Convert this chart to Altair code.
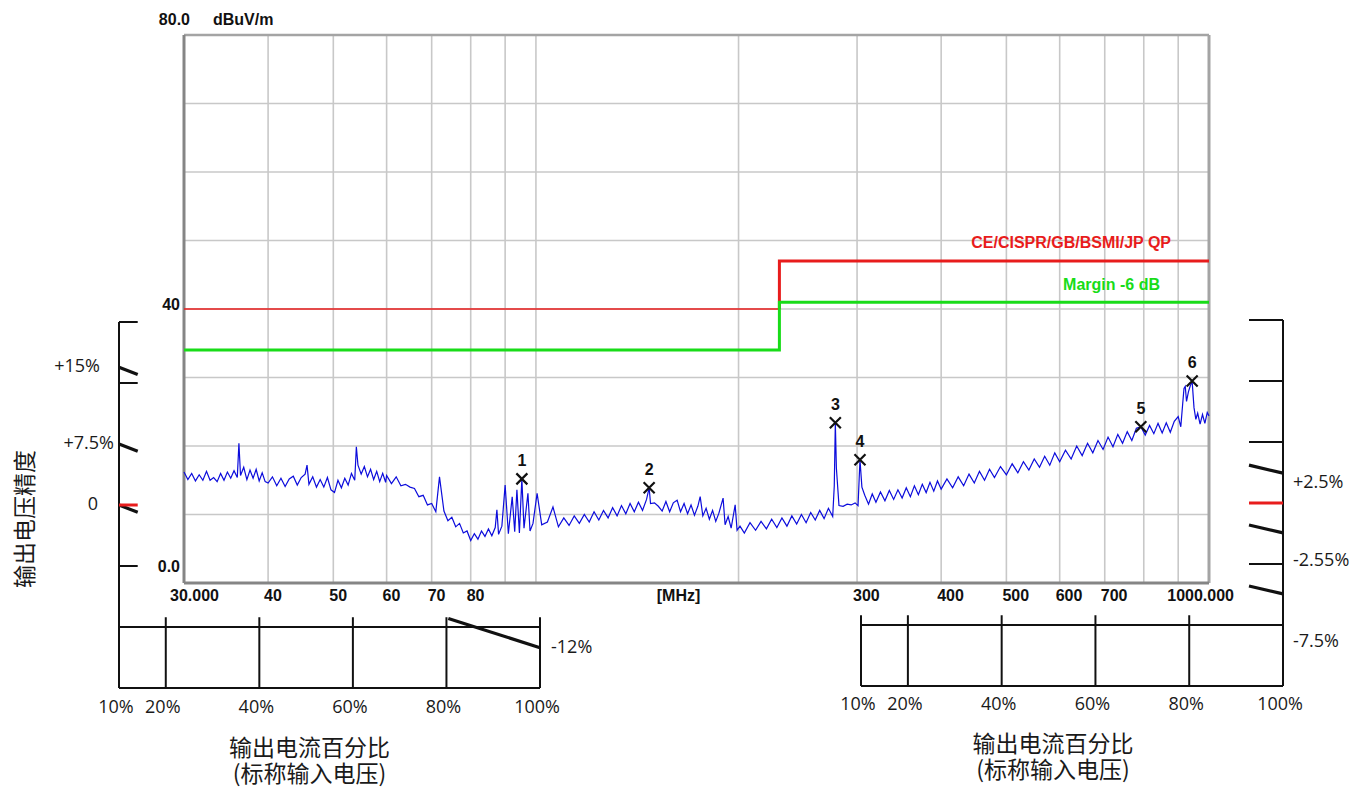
import altair as alt
import pandas as pd

# ---------------- EMI scan: frequency (MHz) / level (dBuV/m) ----------------
TRACE_MHZ = [
    30.0, 30.4, 30.8, 31.2, 31.6, 32.0, 32.4, 32.8, 33.2, 33.6, 34.0, 34.4, 34.8, 35.2, 35.6, 36.0, 36.2, 36.4,
    36.8, 37.2, 37.6, 38.0, 38.4, 38.8, 39.2, 39.6,
    40.0, 40.6, 41.2, 41.8, 42.4, 43.0, 43.6, 44.2, 44.8, 45.4, 45.7, 46.0, 46.6, 47.2, 47.8, 48.4, 49.0, 49.6,
    50.2, 50.8, 51.4, 52.0, 52.6, 53.2, 53.8, 54.1, 54.4, 55.0, 55.6, 56.2, 56.8, 57.4, 58.0, 58.6, 59.2, 59.8,
    60, 61, 62, 63, 64, 65, 66, 67, 68, 69, 70, 71, 71.9, 73, 74, 75, 76, 77, 78, 79, 80, 81, 82, 83, 84, 85,
    86, 87, 87.5, 88, 89, 90, 91, 92.2, 93, 93.7, 94.5, 95.3, 96, 97.3, 98, 99, 100.4,
    102, 104, 106, 108, 110, 112, 114, 116, 118, 120, 122, 124, 126, 128, 130, 132, 134, 136, 138, 140, 142,
    144, 146, 147.3, 148, 150, 152, 154, 156, 158, 160, 162.1, 164, 166, 168, 170, 172, 174, 175.4, 177, 179,
    181, 183, 185, 187, 189.7, 191, 193, 195, 197.7, 199,
    201, 204, 208, 212, 216, 220, 224, 228, 232, 236, 240, 244, 248, 252, 256, 260, 264, 268, 272, 276, 277.5,
    278.5, 279.5, 282, 286, 290, 294, 298, 301, 303, 305, 308, 312, 316, 320, 325, 330, 335, 340, 345, 350,
    355, 360, 365, 370, 375, 380, 385, 390, 395, 400,
    408, 416, 424, 432, 440, 448, 456, 464, 472, 480, 490, 500, 510, 520, 530, 540, 550, 560, 570, 580, 590,
    600, 612, 624, 636, 648, 660, 672, 684, 696, 708, 720, 732, 744, 756, 768, 780, 792, 804, 816, 828, 840,
    852, 864, 876, 888, 900, 908, 914, 918, 922, 926, 932, 938, 944, 950, 956, 962, 970, 978, 986, 994, 1000,
]
TRACE_DBUV = [
    16.2, 15.1, 16.0, 14.9, 15.8, 15.0, 16.3, 15.0, 15.4, 14.8, 16.0, 15.0, 16.2, 15.3, 16.4, 15.4, 20.4, 15.7,
    16.9, 15.1, 16.5, 15.3, 16.6, 14.9, 16.1, 14.8,
    14.6, 15.5, 14.2, 15.3, 14.1, 15.2, 15.6, 14.3, 15.4, 15.9, 17.2, 14.4, 15.5, 14.0, 15.1, 14.0, 15.4, 13.6,
    13.2, 15.0, 13.9, 15.3, 14.3, 16.0, 15.0, 19.9, 17.2, 15.9, 17.0, 15.5, 16.6, 15.1, 16.3, 14.8, 16.0, 14.7,
    15.7, 14.5, 15.5, 14.2, 14.4, 14.0, 13.8, 12.6, 12.8, 11.4, 11.6, 10.4, 15.5, 10.5, 9.1, 9.6, 8.2, 8.7, 7.3,
    7.6, 6.2, 7.2, 6.4, 7.6, 6.8, 7.9, 6.9, 8.1, 10.7, 7.1, 8.3, 14.3, 7.2, 12.6, 7.5, 13.6, 7.3, 15.2, 8.0,
    13.1, 7.6, 8.7, 13.1,
    8.5, 8.9, 11.1, 8.2, 9.5, 8.4, 9.8, 8.7, 10.0, 8.9, 10.4, 9.2, 10.6, 9.5, 11.0, 9.8, 11.3, 10.1, 11.6, 10.4,
    11.8, 10.6, 12.2, 13.9, 11.6, 11.7, 11.2, 10.5, 11.9, 10.4, 11.7, 12.1, 10.4, 11.6, 10.1, 11.4, 9.9, 11.2,
    12.6, 9.8, 10.9, 9.3, 10.6, 9.0, 10.2, 12.4, 8.5, 9.7, 8.0, 11.4, 7.7,
    8.3, 7.3, 8.8, 7.7, 9.0, 7.9, 9.3, 8.1, 9.5, 8.3, 9.8, 8.6, 10.0, 8.8, 10.3, 9.2, 10.6, 9.4, 10.9, 9.7, 14.2,
    23.4, 16.8, 11.3, 11.2, 11.5, 11.4, 11.7, 11.3, 18.0, 14.0, 12.8, 11.5, 13.0, 11.8, 13.3, 12.0, 13.5, 12.2,
    13.6, 12.4, 13.9, 12.6, 14.2, 12.9, 14.4, 13.2, 14.7, 13.4, 14.9, 13.7,
    15.2, 13.9, 15.5, 14.2, 15.9, 14.6, 16.3, 15.0, 16.6, 15.4, 17.0, 15.8, 17.4, 16.1, 17.7, 16.5, 18.1, 16.9,
    18.5, 17.2, 19.0, 17.7, 19.4, 18.1, 20.0, 18.6, 20.4, 19.0, 20.8, 19.5, 21.3, 19.9, 21.7, 20.4, 22.1, 20.8,
    22.6, 22.8, 21.6, 23.0, 21.8, 23.3, 21.9, 23.4, 22.0, 23.6, 24.3, 22.8, 26.2, 28.4, 28.7, 26.5, 27.9, 28.8,
    29.4, 25.6, 23.9, 24.8, 23.2, 24.6, 23.3, 24.9, 24.4,
]

LIMIT_MHZ = [30, 230, 230, 1000]
LIMIT_QP_DB = [40, 40, 47, 47]
LIMIT_MARGIN_DB = [34, 34, 41, 41]

MARKER_NO = ["1", "2", "3", "4", "5", "6"]
MARKER_MHZ = [95.3, 147.3, 278.5, 303.0, 792.0, 944.0]
MARKER_DBUV = [15.2, 13.9, 23.4, 18.0, 22.8, 29.5]

FREQ_RANGE = [30, 1000]
LEVEL_RANGE = [0, 80]
GRID_MHZ = [40, 50, 60, 70, 80, 90, 100, 200, 300, 400, 500, 600, 700, 800, 900]
GRID_DB = [10, 20, 30, 40, 50, 60, 70]
XTICK_MHZ = [40, 50, 60, 70, 80, 300, 400, 500, 600, 700]
XTICK_TEXT = ["40", "50", "60", "70", "80", "300", "400", "500", "600", "700"]

# ---------------- output-voltage-accuracy panels: load (%) / accuracy (%) ----------------
LOAD_RANGE = [10, 100]
ACC_RANGE = [-15, 15]
LOAD_GRID = [20, 40, 60, 80]
LOAD_TICK_POS = [10, 20, 40, 60, 80, 100]
LOAD_TICK_TEXT = ["10%", "20%", "40%", "60%", "80%", "100%"]
BOX_ACC = [-10, -15]
BOX_TOP_VISIBLE = -9.2

L_TICK_ACC = [15, 10, -5]
L_TICK_END = 14
L_CURVE_X0 = [10, 10, 10, 80.4]
L_CURVE_Y0 = [11.3, 5.0, 0.0, -9.3]
L_CURVE_X1 = [14, 14, 14, 100]
L_CURVE_Y1 = [10.7, 4.4, -0.6, -11.7]
L_LABELS = ["+15%", "+7.5%", "0", "-12%"]

R_TICK_ACC = [15, 10, 5, -5]
R_TICK_START = 92.75
R_CURVE_Y0 = [3.1, -1.8, -6.8]
R_CURVE_Y1 = [2.45, -2.45, -7.45]
R_LABELS = ["+2.5%", "-2.55%", "-7.5%"]
R_LABEL_ACC = [1.6, -4.75, -11.4]

X_TITLE = "输出电流百分比\n(标称输入电压)"
Y_TITLE = "输出电压精度"
Y_TITLE_AT = [-9.9, -1.15]

# ---------------- styles ----------------
RED = "#e81c1c"
GREEN = "#18dc18"
BLUE = "#0c0cdc"
GRID_C = "#c8c8c8"
EMI_TXT = dict(font="Liberation Sans", fontSize=16, fontWeight="bold", color="#111111", baseline="middle")
PAN_TXT = dict(font="Open Sans", fontSize=18, color="#1a1a1a", baseline="middle")
CJK_TXT = dict(font="Noto Sans CJK SC", fontSize=23, color="#1a1a1a", baseline="middle", align="center")
XPATH = "M-1,-1L1,1M-1,1L1,-1"

FX = alt.Scale(type="log", domain=FREQ_RANGE, range=[176, 1201])
FY = alt.Scale(domain=LEVEL_RANGE, range=[575, 27])
LX = alt.Scale(domain=LOAD_RANGE, range=[111, 532])
LY = alt.Scale(domain=ACC_RANGE, range=[680, 314])
RX = alt.Scale(domain=LOAD_RANGE, range=[853, 1275])
RY = alt.Scale(domain=ACC_RANGE, range=[678, 312])


def enc(xs, ys, x, y, x2=None, y2=None):
    e = {"x": alt.X(f"{x}:Q", scale=xs, axis=None), "y": alt.Y(f"{y}:Q", scale=ys, axis=None)}
    if x2:
        e["x2"] = alt.X2(f"{x2}:Q")
    if y2:
        e["y2"] = alt.Y2(f"{y2}:Q")
    return e


def rule(df, xs, ys, x, y, x2=None, y2=None, **mk):
    return alt.Chart(df).mark_rule(**mk).encode(**enc(xs, ys, x, y, x2, y2))


def text(df, xs, ys, x, y, t="t", **mk):
    return alt.Chart(df).mark_text(**mk).encode(text=alt.Text(f"{t}:N"), **enc(xs, ys, x, y))


def line(df, xs, ys, x, y, **mk):
    return alt.Chart(df).mark_line(**mk).encode(order=alt.Order("i:Q"), **enc(xs, ys, x, y))


def one(**kw):
    return pd.DataFrame({k: [v] for k, v in kw.items()})


f0, f1 = FREQ_RANGE
l0, l1 = LEVEL_RANGE

# ---------------- EMI chart ----------------
lim = pd.DataFrame({"i": range(4), "f": LIMIT_MHZ, "qp": LIMIT_QP_DB, "mg": LIMIT_MARGIN_DB})
trace = pd.DataFrame({"i": range(len(TRACE_MHZ)), "f": TRACE_MHZ, "l": TRACE_DBUV})
marks = pd.DataFrame({"n": MARKER_NO, "f": MARKER_MHZ, "l": MARKER_DBUV})

emi = alt.layer(
    rule(pd.DataFrame({"f": GRID_MHZ, "lo": l0, "hi": l1}), FX, FY, "f", "lo", y2="hi", color=GRID_C, strokeWidth=1.6),
    rule(pd.DataFrame({"l": GRID_DB, "a": f0, "b": f1}), FX, FY, "a", "l", x2="b", color=GRID_C, strokeWidth=1.6),
    rule(one(f=f1, lo=l0, hi=l1), FX, FY, "f", "lo", y2="hi", color="#a4a4a4", strokeWidth=3),
    rule(one(l=l1, a=f0, b=f1), FX, FY, "a", "l", x2="b", color="#a4a4a4", strokeWidth=2.5),
    rule(one(f=f0, lo=l0, hi=l1), FX, FY, "f", "lo", y2="hi", color="#858585", strokeWidth=3),
    rule(one(l=l0, a=f0, b=f1), FX, FY, "a", "l", x2="b", color="#858585", strokeWidth=3),
    line(lim.iloc[:2], FX, FY, "f", "qp", color=RED, strokeWidth=1.6),
    line(lim.iloc[1:], FX, FY, "f", "qp", color=RED, strokeWidth=3),
    line(lim, FX, FY, "f", "mg", color=GREEN, strokeWidth=3),
    line(trace, FX, FY, "f", "l", color=BLUE, strokeWidth=1.2),
    alt.Chart(marks).mark_point(shape=XPATH, size=121, filled=False, color="#111111", strokeWidth=2.2,
                                opacity=1).encode(**enc(FX, FY, "f", "l")),
    text(marks, FX, FY, "f", "l", t="n", align="center", dy=-18, **EMI_TXT),
    text(pd.DataFrame({"f": XTICK_MHZ, "l": l0, "t": XTICK_TEXT}), FX, FY, "f", "l", align="left", dx=-4, dy=13, **EMI_TXT),
    text(one(f=f0, l=l0, t="30.000"), FX, FY, "f", "l", align="left", dx=-14, dy=13, **EMI_TXT),
    text(one(f=f1, l=l0, t="1000.000"), FX, FY, "f", "l", align="right", dx=25, dy=13, **EMI_TXT),
    text(one(f=(f0 * f1) ** 0.5, l=l0, t="[MHz]"), FX, FY, "f", "l", align="center", dx=-18, dy=13, **EMI_TXT),
    text(one(f=f0, l=l1, t="80.0"), FX, FY, "f", "l", align="right", dx=6, dy=-15, **EMI_TXT),
    text(one(f=f0, l=l1, t="dBuV/m"), FX, FY, "f", "l", align="left", dx=29, dy=-15, **EMI_TXT),
    text(one(f=f0, l=40, t="40"), FX, FY, "f", "l", align="right", dx=-4, dy=-4, **EMI_TXT),
    text(one(f=f0, l=l0, t="0.0"), FX, FY, "f", "l", align="right", dx=-4, dy=-16, **EMI_TXT),
    text(one(f=f1, l=LIMIT_QP_DB[-1], t="CE/CISPR/GB/BSMI/JP QP"), FX, FY, "f", "l", align="right", dx=-38, dy=-18,
         **{**EMI_TXT, "color": RED}),
    text(one(f=f1, l=LIMIT_MARGIN_DB[-1], t="Margin -6 dB"), FX, FY, "f", "l", align="right", dx=-49, dy=-17,
         **{**EMI_TXT, "color": GREEN}),
)

lx0, lx1 = LOAD_RANGE
a0, a1 = ACC_RANGE
BLK = dict(color="#111111")


def panel_common(XS, YS, axis_x, dy_tick, dy_title, title_dx):
    return [
        rule(one(x=axis_x, lo=a0, hi=a1), XS, YS, "x", "lo", y2="hi", strokeWidth=2, **BLK),
        rule(pd.DataFrame({"y": BOX_ACC, "a": lx0, "b": lx1}), XS, YS, "a", "y", x2="b", strokeWidth=2, **BLK),
        text(pd.DataFrame({"x": LOAD_TICK_POS, "y": a0, "t": LOAD_TICK_TEXT}), XS, YS, "x", "y", align="center",
             dx=-3, dy=dy_tick, **PAN_TXT),
        text(one(x=(lx0 + lx1) / 2, y=a0, t=X_TITLE), XS, YS, "x", "y", dx=title_dx, dy=dy_title,
             lineBreak="\n", lineHeight=26, **CJK_TXT),
    ]


# ---------------- left accuracy panel ----------------
lcurve = pd.DataFrame({"x0": L_CURVE_X0, "y0": L_CURVE_Y0, "x1": L_CURVE_X1, "y1": L_CURVE_Y1, "t": L_LABELS})
left = alt.layer(
    *panel_common(LX, LY, lx0, 20, 61, -20),
    rule(pd.DataFrame({"x": LOAD_GRID + [lx1], "lo": a0, "hi": BOX_TOP_VISIBLE}), LX, LY, "x", "lo", y2="hi",
         strokeWidth=2, **BLK),
    rule(pd.DataFrame({"y": L_TICK_ACC, "a": lx0, "b": L_TICK_END}), LX, LY, "a", "y", x2="b", strokeWidth=2, **BLK),
    rule(lcurve, LX, LY, "x0", "y0", x2="x1", y2="y1", strokeWidth=3.2, **BLK),
    rule(one(y=0, a=lx0, b=L_TICK_END), LX, LY, "a", "y", x2="b", strokeWidth=3, color=RED),
    text(lcurve.iloc[[0]], LX, LY, "x0", "y0", align="right", dx=-19, **PAN_TXT),
    text(lcurve.iloc[[1]], LX, LY, "x0", "y0", align="right", dx=-5, **PAN_TXT),
    text(lcurve.iloc[[2]], LX, LY, "x0", "y0", align="right", dx=-21, **PAN_TXT),
    text(lcurve.iloc[[3]], LX, LY, "x1", "y1", align="left", dx=11, **PAN_TXT),
    text(one(x=Y_TITLE_AT[0], y=Y_TITLE_AT[1], t=Y_TITLE), LX, LY, "x", "y", angle=270, **CJK_TXT),
)

# ---------------- right accuracy panel ----------------
rcurve = pd.DataFrame({"x0": R_TICK_START, "y0": R_CURVE_Y0, "x1": lx1, "y1": R_CURVE_Y1})
right = alt.layer(
    *panel_common(RX, RY, lx1, 19, 59, -19),
    rule(pd.DataFrame({"x": [lx0] + LOAD_GRID, "lo": a0, "hi": BOX_TOP_VISIBLE}), RX, RY, "x", "lo", y2="hi",
         strokeWidth=2, **BLK),
    rule(pd.DataFrame({"y": R_TICK_ACC, "a": R_TICK_START, "b": lx1}), RX, RY, "a", "y", x2="b", strokeWidth=2, **BLK),
    rule(rcurve, RX, RY, "x0", "y0", x2="x1", y2="y1", strokeWidth=3.2, **BLK),
    rule(one(y=0, a=R_TICK_START, b=lx1), RX, RY, "a", "y", x2="b", strokeWidth=3, color=RED),
    text(pd.DataFrame({"x": lx1, "y": R_LABEL_ACC, "t": R_LABELS}), RX, RY, "x", "y", align="left", dx=10, **PAN_TXT),
)

chart = (
    alt.layer(left, right, emi)
    .resolve_scale(x="independent", y="independent")
    .properties(width=1349, height=785, padding=0, autosize=alt.AutoSizeParams(type="none"))
    .configure_view(stroke=None)
)

chart.save("out.html", embed_options={"renderer": "svg", "actions": False})
